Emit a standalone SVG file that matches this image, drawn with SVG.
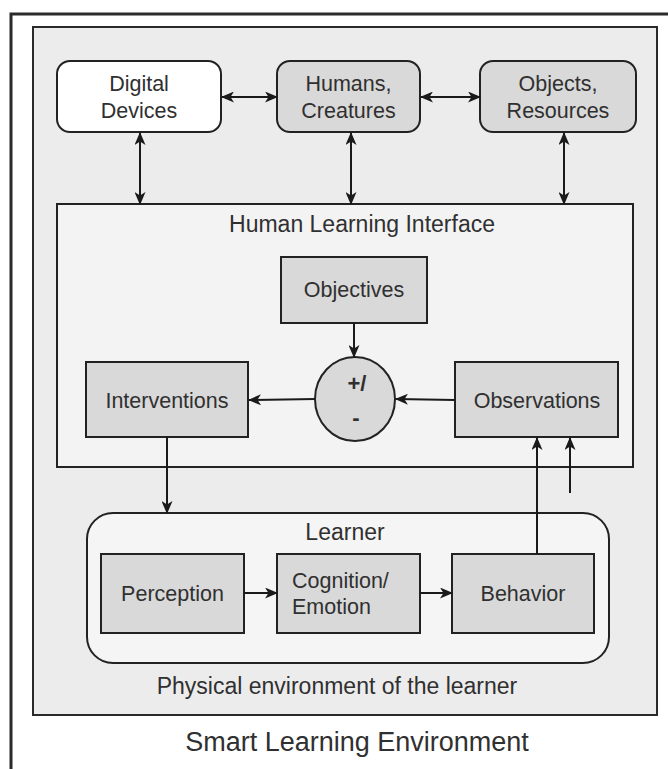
<svg xmlns="http://www.w3.org/2000/svg" width="668" height="769" viewBox="0 0 668 769">
<defs>
<marker id="ah" viewBox="0 0 13 11" refX="12" refY="5.5" markerWidth="13" markerHeight="11" markerUnits="userSpaceOnUse" orient="auto-start-reverse">
<path d="M0,0 L13,5.5 L0,11 L3.5,5.5 z" fill="#1a1a1a"/>
</marker>
</defs>
<style>
text{font-family:"Liberation Sans",Arial,sans-serif;fill:#303030}
.lbl{font-size:21.5px;text-anchor:middle}
.ttl{font-size:23px;text-anchor:middle}
.box{fill:#d9d9d9;stroke:#222;stroke-width:2}
.con{stroke:#1a1a1a;stroke-width:2;fill:none}
</style>
<rect width="668" height="769" fill="#ffffff"/>
<rect x="11" y="14" width="720" height="820" fill="none" stroke="#2a2a2a" stroke-width="3"/>
<g id="physical-env">
<rect x="33" y="27" width="624" height="688" fill="#ececec" stroke="#2a2a2a" stroke-width="2"/>
<text class="ttl" x="337" y="694">Physical environment of the learner</text>
</g>
<text x="357" y="751" style="font-size:27px;text-anchor:middle">Smart Learning Environment</text>
<g id="digital-devices">
<rect x="57" y="61" width="164" height="71" rx="13" fill="#ffffff" stroke="#222" stroke-width="2"/>
<text class="lbl" x="139" y="91">Digital</text>
<text class="lbl" x="139" y="118">Devices</text>
</g>
<g id="humans">
<rect class="box" x="277" y="61" width="143" height="71" rx="13"/>
<text class="lbl" x="348.5" y="91">Humans,</text>
<text class="lbl" x="348.5" y="118">Creatures</text>
</g>
<g id="objects">
<rect class="box" x="480" y="61" width="156" height="71" rx="13"/>
<text class="lbl" x="558" y="91">Objects,</text>
<text class="lbl" x="558" y="118">Resources</text>
</g>
<g id="hli">
<rect x="57" y="204" width="576" height="263" fill="#f3f3f3" stroke="#222" stroke-width="2"/>
<text class="ttl" x="362" y="232">Human Learning Interface</text>
</g>
<g id="objectives">
<rect class="box" x="281" y="257" width="146" height="66"/>
<text class="lbl" x="354" y="297">Objectives</text>
</g>
<g id="comparator">
<ellipse cx="355" cy="399" rx="40" ry="42" fill="#d9d9d9" stroke="#222" stroke-width="2"/>
<text x="357" y="391" style="font-size:22px;font-weight:bold;text-anchor:middle">+/</text>
<text x="356" y="425" style="font-size:22px;font-weight:bold;text-anchor:middle">-</text>
</g>
<g id="interventions">
<rect class="box" x="86" y="362" width="162" height="75"/>
<text class="lbl" x="167" y="408">Interventions</text>
</g>
<g id="observations">
<rect class="box" x="455" y="362" width="163" height="75"/>
<text class="lbl" x="537" y="408">Observations</text>
</g>
<g id="learner">
<rect x="87" y="513" width="522" height="150" rx="26" fill="#f5f5f5" stroke="#222" stroke-width="2"/>
<text class="ttl" x="345" y="540">Learner</text>
</g>
<g id="perception">
<rect class="box" x="101" y="554" width="143" height="79"/>
<text class="lbl" x="172.5" y="601">Perception</text>
</g>
<g id="cognition">
<rect class="box" x="277" y="554" width="143" height="79"/>
<text x="292" y="588" style="font-size:21.5px">Cognition/</text>
<text x="292" y="614" style="font-size:21.5px">Emotion</text>
</g>
<g id="behavior">
<rect class="box" x="452" y="554" width="142" height="79"/>
<text class="lbl" x="523" y="601">Behavior</text>
</g>
<g id="connectors">
<line class="con" x1="222" y1="97" x2="277" y2="97" marker-start="url(#ah)" marker-end="url(#ah)"/>
<line class="con" x1="421" y1="97" x2="480" y2="97" marker-start="url(#ah)" marker-end="url(#ah)"/>
<line class="con" x1="140" y1="133" x2="140" y2="204" marker-start="url(#ah)" marker-end="url(#ah)"/>
<line class="con" x1="351" y1="133" x2="351" y2="204" marker-start="url(#ah)" marker-end="url(#ah)"/>
<line class="con" x1="564" y1="133" x2="564" y2="204" marker-start="url(#ah)" marker-end="url(#ah)"/>
<line class="con" x1="354" y1="323" x2="354" y2="357" marker-end="url(#ah)"/>
<line class="con" x1="315" y1="399" x2="249" y2="400" marker-end="url(#ah)"/>
<line class="con" x1="455" y1="400" x2="396" y2="399" marker-end="url(#ah)"/>
<line class="con" x1="167" y1="437" x2="167" y2="513" marker-end="url(#ah)"/>
<line class="con" x1="537" y1="554" x2="537" y2="438" marker-end="url(#ah)"/>
<line class="con" x1="570" y1="493" x2="570" y2="438" marker-end="url(#ah)"/>
<line class="con" x1="244" y1="593" x2="277" y2="593" marker-end="url(#ah)"/>
<line class="con" x1="420" y1="593" x2="452" y2="593" marker-end="url(#ah)"/>
</g>
</svg>
